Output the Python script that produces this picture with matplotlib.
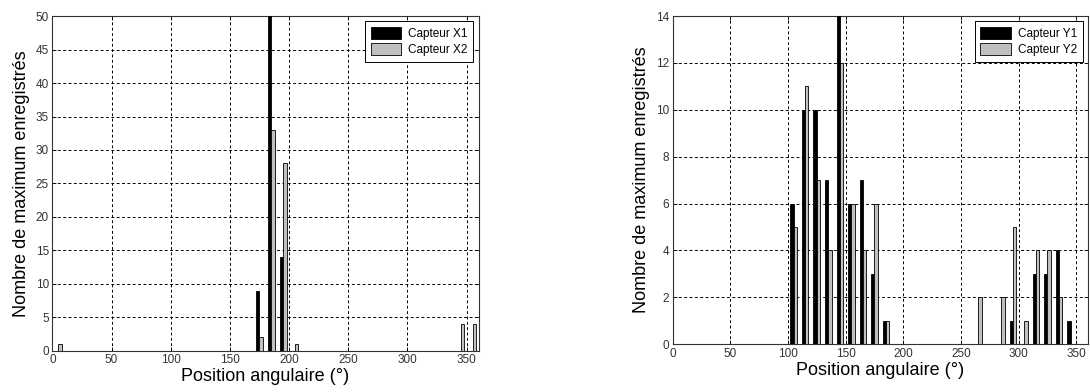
import numpy as np
import matplotlib.pyplot as plt
from matplotlib.patches import Patch

# Bin centres (degrees) and counts
centres = np.arange(5, 360, 10)

x1_bins = [175, 185, 195]
x1_vals = [9, 50, 14]
x2_bins = [5, 175, 185, 195, 205, 345, 355]
x2_vals = [1, 2, 33, 28, 1, 4, 4]

y1_bins = [105, 115, 125, 135, 145, 155, 165, 175, 185, 295, 315, 325, 335, 345]
y1_vals = [6, 10, 10, 7, 14, 6, 7, 3, 1, 1, 3, 3, 4, 1]
y2_bins = [105, 115, 125, 135, 145, 155, 165, 175, 185, 265, 285, 295, 305, 315, 325, 335]
y2_vals = [5, 11, 7, 4, 12, 6, 4, 6, 1, 2, 2, 5, 1, 4, 4, 2]

GRAY = '#c0c0c0'
plt.rcParams['font.family'] = ['Liberation Sans', 'DejaVu Sans']


def full(bins, vals):
    out = np.zeros(len(centres))
    for b, v in zip(bins, vals):
        out[np.where(centres == b)[0][0]] = v
    return out


def panel(ax, s1, s2, labels, ymax, ystep):
    w = 2.86
    ax.bar(centres - w / 2, s1, width=w, color='black', edgecolor='black', linewidth=0.6, zorder=3)
    ax.bar(centres + w / 2, s2, width=w, color=GRAY, edgecolor='black', linewidth=0.6, zorder=3)
    ax.set_xlim(0, 360)
    ax.set_ylim(0, ymax)
    ax.set_xticks(np.arange(0, 351, 50))
    ax.set_yticks(np.arange(0, ymax + 1, ystep))
    ax.tick_params(direction='in', length=3, labelsize=8.5, labelcolor='#333333',
                   top=True, right=True, width=0.6, pad=2.5)
    ax.grid(True, color='black', linestyle=(0, (3, 2.5)), linewidth=0.7, zorder=1)
    for sp in ax.spines.values():
        sp.set_linewidth(0.8)
        sp.set_color('#333333')
    ax.set_xlabel('Position angulaire (°)', fontsize=13, labelpad=1.5)
    ax.set_ylabel('Nombre de maximum enregistrés', fontsize=13, labelpad=4)
    handles = [Patch(facecolor='black', edgecolor='black', linewidth=0.6),
               Patch(facecolor=GRAY, edgecolor='black', linewidth=0.6)]
    leg = ax.legend(handles, labels, loc='upper right', fontsize=8.5, fancybox=False,
                    framealpha=1, edgecolor='black', borderaxespad=0.45,
                    handlelength=2.6, handleheight=1.2, borderpad=0.45, labelspacing=0.3,
                    handletextpad=0.6)
    leg.get_frame().set_linewidth(0.7)


fig = plt.figure(figsize=(10.9, 3.92), dpi=100)
ax1 = fig.add_axes([0.048, 0.105, 0.391, 0.854])
ax2 = fig.add_axes([0.617, 0.122, 0.381, 0.837])

panel(ax1, full(x1_bins, x1_vals), full(x2_bins, x2_vals), ['Capteur X1', 'Capteur X2'], 50, 5)
panel(ax2, full(y1_bins, y1_vals), full(y2_bins, y2_vals), ['Capteur Y1', 'Capteur Y2'], 14, 2)

fig.savefig('out.png', dpi=100)
